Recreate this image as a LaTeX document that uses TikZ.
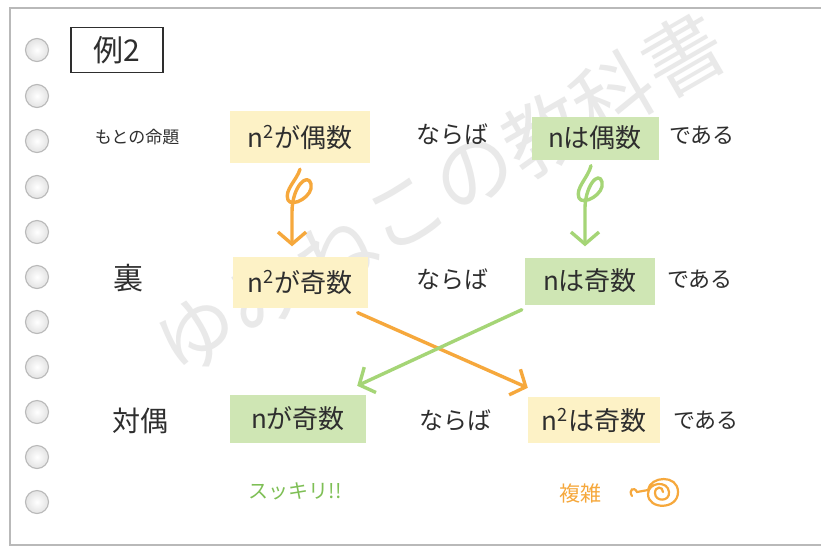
\documentclass[tikz,border=0pt]{standalone}
\usepackage{fontspec}
\setmainfont{Noto Sans CJK JP}
\usetikzlibrary{arrows.meta}
\definecolor{ylw}{HTML}{FDF2C6}
\definecolor{grn}{HTML}{CFE6B4}
\definecolor{orng}{HTML}{F6A83C}
\definecolor{lgrn}{HTML}{A5D576}
\definecolor{tgrn}{HTML}{7EBF55}
\definecolor{ink}{HTML}{2E2E2E}
\begin{document}
\begin{tikzpicture}[x=1pt,y=-1pt,
  every node/.style={inner sep=0pt, text=ink},
  fsz/.style={font=\fontsize{#1}{#1}\selectfont},
  wmark/.style={rotate=30, text=gray!17, fsz=80},
  ybox/.style={fill=ylw, fsz=26},
  gbox/.style={fill=grn, fsz=26},
  hole/.style={draw=gray!55, line width=1.1pt, inner color=white, outer color=gray!22},
  oarr/.style={draw=orng, line width=3.4pt, line cap=round, line join=round, -{Straight Barb[length=12pt,width=28pt]}},
  garr/.style={draw=lgrn, line width=3.4pt, line cap=round, line join=round, -{Straight Barb[length=12pt,width=28pt]}}
]
\useasboundingbox (0,0) rectangle (821,547);
\fill[white] (0,0) rectangle (821,547);
% watermark, one glyph per node along a 30 degree line
\foreach \ch [count=\i from 0] in {ゆ,み,ね,こ,の,教,科,書}
  \node[wmark] (wm\i) at ({440+(\i-3.5)*69.3},{194-(\i-3.5)*40}) {\ch};
% page border
\draw[gray!55, line width=1.5pt] (830,8) -- (10,8) -- (10,545) -- (830,545);
% holes
\foreach \yy in {50,96,141,187,232,277,322,367,412,457,502}
  \shade[hole] (37,\yy) circle (11.5);
% title box
\node[draw=ink, line width=1.5pt, minimum width=92pt, minimum height=45pt, fsz=30] (ttl) at (117,50) {例2};
% row 1
\node[fsz=17] (r1) at (137,137) {もとの命題};
\node[ybox, minimum width=140pt, minimum height=52pt] (p1) at (300,137) {n\textsuperscript{2}が偶数};
\node[fsz=24] (n1) at (452,134) {ならば};
\node[gbox, minimum width=127pt, minimum height=43pt] (g1) at (595,138) {nは偶数};
\node[fsz=22] (d1) at (702,135) {である};
% row 2
\node[fsz=30] (r2) at (128,278) {裏};
\node[ybox, minimum width=135pt, minimum height=51pt] (p2) at (300,282) {n\textsuperscript{2}が奇数};
\node[fsz=24] (n2) at (452,279) {ならば};
\node[gbox, minimum width=130pt, minimum height=47pt] (g2) at (590,281) {nは奇数};
\node[fsz=22] (d2) at (700,279) {である};
% row 3
\node[fsz=28] (r3) at (140,421) {対偶};
\node[gbox, minimum width=136pt, minimum height=48pt] (g3) at (298,419) {nが奇数};
\node[fsz=24] (n3) at (455,420) {ならば};
\node[ybox, minimum width=132pt, minimum height=46pt] (q3) at (594,420) {n\textsuperscript{2}は奇数};
\node[fsz=22] (d3) at (706,420) {である};
% row 4
\node[fsz=20, text=tgrn] (s1) at (295,491) {スッキリ!!};
\node[fsz=21, text=orng] (s2) at (580,493) {複雑};
% squiggle arrows
\draw[oarr] ([yshift=-6pt]p1.south) .. controls (297,180) and (284,190) .. (288,200)
  .. controls (292,208) and (314,196) .. (311,184)
  .. controls (308,172) and (292,186) .. (292,212) -- ([xshift=-8pt,yshift=10pt]p2.north);
\draw[garr] ([xshift=-4pt,yshift=-6pt]g1.south) .. controls (588,178) and (575,188) .. (579,198)
  .. controls (583,206) and (605,194) .. (602,182)
  .. controls (599,170) and (584,186) .. (585,212) -- ([xshift=-5pt,yshift=11pt]g2.north);
% cross arrows
\draw[oarr] ([xshift=-10pt,yshift=-5pt]p2.south east) -- ([yshift=9pt]q3.north west);
\draw[garr] ([xshift=-3pt,yshift=-5pt]g2.south west) -- ([xshift=-9pt,yshift=9pt]g3.north east);
% scribble
\draw[orng, line width=2.2pt, line cap=round] (632,496) .. controls (628,490) and (634,486) .. (637,492) -- (648,490)
  .. controls (650,476) and (678,474) .. (678,492) .. controls (678,510) and (648,510) .. (648,494)
  .. controls (648,482) and (668,480) .. (669,492) .. controls (670,502) and (655,502) .. (655,493)
  .. controls (655,486) and (663,486) .. (663,492);
\end{tikzpicture}
\end{document}
